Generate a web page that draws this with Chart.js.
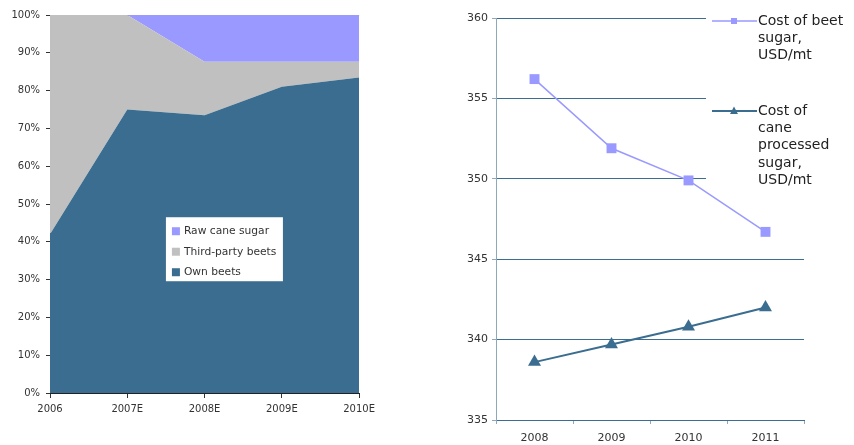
<!DOCTYPE html>
<html>
<head>
<meta charset="utf-8">
<script src="https://cdn.jsdelivr.net/npm/chart.js@4.4.1/dist/chart.umd.min.js"></script>
<style>
  body { margin: 0; background: #fff; }
  .box { position: absolute; top: 0; height: 445px; }
  #shareBox { left: 0; width: 380px; }
  #costBox { left: 440px; width: 414px; }
</style>
</head>
<body>
<div class="box" id="shareBox"><canvas id="sugarShareChart"></canvas></div>
<div class="box" id="costBox"><canvas id="sugarCostChart"></canvas></div>
<script>
Chart.defaults.font.family = "'DejaVu Sans', Verdana, sans-serif";
Chart.defaults.color = "#333";
Chart.defaults.animation = false;

// sugar sourcing mix, % of total
const shareYears = ["2006", "2007E", "2008E", "2009E", "2010E"];
const ownBeets = [42, 75, 73.5, 81, 83.5];
const thirdPartyBeets = [58, 25, 14.1, 6.6, 4.1];
const rawCaneSugar = [0, 0, 12.4, 12.4, 12.4];

// production cost, USD/mt
const costYears = ["2008", "2009", "2010", "2011"];
const beetSugarCost = [356.2, 351.9, 349.9, 346.7];
const caneSugarCost = [338.6, 339.7, 340.8, 342.0];
const beetLegend = ["Cost of beet", "sugar,", "USD/mt"];
const caneLegend = ["Cost of", "cane", "processed", "sugar,", "USD/mt"];

const OWN = "#3A6D8F";
const THIRD = "#C0C0C0";
const CANE = "#9999FF";

// white legend box sitting inside the plot
const boxLegend = {
  id: "boxLegend",
  afterDraw(chart) {
    const { ctx, chartArea: ca } = chart;
    const x = ca.left + ca.width * 0.375;
    const y = ca.top + ca.height * 0.535;
    ctx.save();
    ctx.fillStyle = "#fff";
    ctx.fillRect(x, y, 117, 64);
    ctx.font = "10.7px 'DejaVu Sans'";
    ctx.textBaseline = "middle";
    chart.data.datasets.slice().reverse().forEach((ds, i) => {
      const cy = y + 14 + i * 20.5;
      ctx.fillStyle = ds.backgroundColor;
      ctx.fillRect(x + 6, cy - 4, 8, 8);
      ctx.fillStyle = "#333";
      ctx.fillText(ds.label, x + 18, cy);
    });
    ctx.restore();
  }
};

const shareChart = new Chart(document.getElementById("sugarShareChart"), {
  type: "line",
  data: {
    labels: shareYears,
    datasets: [
      { label: "Own beets", data: ownBeets, backgroundColor: OWN, fill: "origin" },
      { label: "Third-party beets", data: thirdPartyBeets, backgroundColor: THIRD, fill: "-1" },
      { label: "Raw cane sugar", data: rawCaneSugar, backgroundColor: CANE, fill: "-1" },
    ],
  },
  options: {
    responsive: true,
    maintainAspectRatio: false,
    layout: { padding: { top: 15, right: 17, left: 0, bottom: 0 } },
    elements: { point: { radius: 0 }, line: { borderWidth: 0, tension: 0 } },
    plugins: { legend: { display: false }, tooltip: { enabled: false } },
    scales: {
      x: {
        z: 1,
        grid: { drawOnChartArea: false, tickColor: "#333", tickLength: 5 },
        border: { color: "#222" },
        ticks: { font: { size: 10 }, padding: 5, maxRotation: 0, autoSkip: false },
        afterFit: (s) => { s.height = 52; },
      },
      y: {
        z: 1,
        stacked: true,
        min: 0,
        max: 100,
        grid: {
          color: (c) => (c.tick && c.tick.value === 100 ? "#888" : "transparent"),
          tickColor: "#333",
          tickLength: 4,
        },
        border: { color: "#222" },
        ticks: { stepSize: 10, font: { size: 10 }, padding: 6, callback: (v) => v + "%" },
        afterFit: (s) => { s.width = 50; },
      },
    },
  },
  plugins: [boxLegend],
});

// legend on the right, drawn over the plot's upper right corner
const sideLegend = {
  id: "sideLegend",
  afterDraw(chart) {
    const { ctx, chartArea: ca } = chart;
    const x = ca.right - 98;
    const items = [
      { ds: chart.data.datasets[0], lines: beetLegend, top: 21 },
      { ds: chart.data.datasets[1], lines: caneLegend, top: 111 },
    ];
    ctx.save();
    ctx.fillStyle = "#fff";
    ctx.fillRect(x, 0, chart.width - x, 188);
    ctx.font = "14px 'DejaVu Sans'";
    ctx.textBaseline = "middle";
    items.forEach(({ ds, lines, top }) => {
      ctx.strokeStyle = ds.borderColor;
      ctx.lineWidth = ds.borderWidth;
      ctx.beginPath();
      ctx.moveTo(x + 6, top);
      ctx.lineTo(x + 51, top);
      ctx.stroke();
      ctx.fillStyle = ds.borderColor;
      const mx = x + 28;
      if (ds.pointStyle === "rect") {
        ctx.fillRect(mx - 3, top - 3, 6, 6);
      } else {
        ctx.beginPath();
        ctx.moveTo(mx, top - 4.5);
        ctx.lineTo(mx + 4, top + 3);
        ctx.lineTo(mx - 4, top + 3);
        ctx.closePath();
        ctx.fill();
      }
      ctx.fillStyle = "#222";
      lines.forEach((t, i) => ctx.fillText(t, x + 52, top + i * 17.4));
    });
    ctx.restore();
  }
};

const costChart = new Chart(document.getElementById("sugarCostChart"), {
  type: "line",
  data: {
    labels: costYears,
    datasets: [
      {
        label: beetLegend.join(" "),
        data: beetSugarCost,
        borderColor: CANE,
        backgroundColor: CANE,
        borderWidth: 1.5,
        pointStyle: "rect",
        pointRadius: 7,
        pointBorderWidth: 0,
      },
      {
        label: caneLegend.join(" "),
        data: caneSugarCost,
        borderColor: OWN,
        backgroundColor: OWN,
        borderWidth: 2,
        pointStyle: "triangle",
        pointRadius: 7.5,
        pointBorderWidth: 0,
      },
    ],
  },
  options: {
    responsive: true,
    maintainAspectRatio: false,
    layout: { padding: { top: 18, right: 50, left: 0, bottom: 0 } },
    elements: { line: { tension: 0 } },
    plugins: { legend: { display: false }, tooltip: { enabled: false } },
    scales: {
      x: {
        offset: true,
        grid: { offset: true, drawOnChartArea: false, tickColor: "#8DA8BC", tickLength: 4 },
        border: { color: "#3A6D8F" },
        ticks: { font: { size: 11 }, padding: 8, maxRotation: 0 },
        afterFit: (s) => { s.height = 25; },
      },
      y: {
        min: 335,
        max: 360,
        grid: { color: "#3A6D8F", tickColor: "#8DA8BC", tickLength: 4 },
        border: { color: "#8DA8BC" },
        ticks: { stepSize: 5, font: { size: 11 }, padding: 4 },
        afterFit: (s) => { s.width = 56; },
      },
    },
  },
  plugins: [sideLegend],
});
</script>
</body>
</html>
